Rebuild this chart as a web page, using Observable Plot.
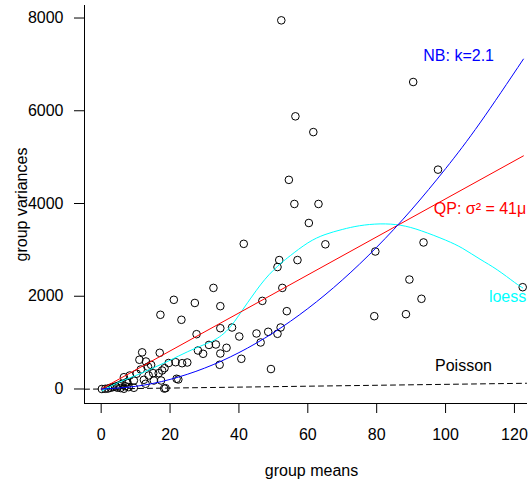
<!DOCTYPE html>
<html><head><meta charset="utf-8">
<script src="https://cdn.jsdelivr.net/npm/d3@7"></script>
<script src="https://cdn.jsdelivr.net/npm/@observablehq/plot@0.6"></script>
<style>body{margin:0;background:#fff;} svg text{font-family:'Liberation Sans',Arial,sans-serif;}</style>
</head><body><div id="chart"></div>
<script>
// group means / variances
const means = [52.3,90.6,56.4,61.6,54.5,97.8,56.1,63.1,60.3,41.4,65.1,93.6,79.6,51.7,57.0,51.2,89.5,122.4,32.6,52.6,
  93.0,21.1,27.2,46.8,34.6,53.9,88.5,79.3,17.2,23.3,34.6,38.0,52.1,27.7,40.1,45.1,48.5,51.2,46.3,31.3,
  33.3,36.4,28.1,29.6,34.6,34.4,40.7,49.3,11.9,17.0,11.1,13.0,21.6,23.5,25.0,18.4,17.7,16.7,15.1,13.8,
  12.4,15.3,12.9,17.4,21.9,22.4,18.3,18.7,6.6,8.3,9.5,7.6,8.0,9.5,6.6,0.2,1.2,2.0,2.7,3.4,4.2,5.1,6.1,7.0,
  10.3,11.5,13.6,14.5,19.6,4.6,5.6,7.3];
const variances = [7950,6620,5880,5540,4510,4730,3990,3990,3580,3130,3120,3160,2965,2780,2780,2630,2360,2195,2180,2180,
  1945,1923,1855,1900,1786,1678,1613,1570,1600,1492,1311,1326,1326,1182,1132,1197,1233,1190,1003,950,
  960,888,830,759,765,522,651,430,790,780,630,593,578,556,571,449,399,341,341,291,
  198,183,112,183,220,205,10,17,254,291,183,147,40,26,5,0,4,10,26,40,54,75,112,60,
  330,420,480,520,560,30,20,140];

// fitted curves
const nbMu  = [0,10,20,30,40,50,60,70,80,90,100,110,122.6];
const nbVar = [0,57,206,449,784,1213,1734,2349,3057,3857,4751,5738,7114];
const qpMu  = [0,122.6];
const qpVar = [0,5027];
const loMu  = [0.3,5,10,15,20,25,30,32.5,35,37.5,40,42.5,45,47.5,50,52.5,55,60,65,70,75,81,87,93,100,105,110,115,120,122.4];
const loVar = [-40,140,290,450,620,800,960,1040,1160,1340,1590,1860,2120,2360,2560,2730,2880,3150,3330,3440,3520,3560,3530,3410,3210,3030,2800,2570,2300,2180];
const xDomain = [-4.84, 123.5];
const yDomain = [-313, 8270];
const xTicks = [0,20,40,60,80,100,120];
const yTicks = [0,2000,4000,6000,8000];
const labels = [
  {x:103.8, y:7191, text:"NB: k=2.1", color:"#0000ff"},
  {x:110.0, y:3892, text:"QP: σ² = 41μ", color:"#ff0000"},
  {x:118.0, y:1979, text:"loess", color:"#00ffff"},
  {x:105.2, y:492,  text:"Poisson", color:"#000000"}
];

const pts = means.map((m,i)=>({m, v: variances[i]}));
const nb = nbMu.map((m,i)=>({m, v: nbVar[i]}));
const qp = qpMu.map((m,i)=>({m, v: qpVar[i]}));
const lo = loMu.map((m,i)=>({m, v: loVar[i]}));
const pois = xDomain.map(m=>({m, v: m}));

const chart = Plot.plot({
  width: 530, height: 481,
  marginLeft: 84, marginRight: 4, marginTop: 5, marginBottom: 78,
  style: {fontSize: "16px", fontFamily: "'Liberation Sans', Arial, sans-serif", background: "white", color: "black"},
  x: {domain: xDomain, ticks: xTicks, tickSize: 10, tickPadding: 15, line: true, label: null},
  y: {domain: yDomain, ticks: yTicks, tickSize: 10, tickPadding: 11, line: true, label: null, tickFormat: d3.format("d")},
  marks: [
    Plot.dot(pts, {x: "m", y: "v", r: 3.8, stroke: "black", strokeWidth: 1, fill: "none"}),
    Plot.line(pois, {x: "m", y: "v", stroke: "black", strokeWidth: 1, strokeDasharray: "5,4"}),
    Plot.line(lo, {x: "m", y: "v", stroke: "#00ffff", strokeWidth: 1, curve: "natural"}),
    Plot.line(qp, {x: "m", y: "v", stroke: "#ff0000", strokeWidth: 1}),
    Plot.line(nb, {x: "m", y: "v", stroke: "#0000ff", strokeWidth: 1, curve: "natural"}),
    Plot.text(labels, {x: "x", y: "y", text: "text", fill: "color", fontSize: 16}),
    Plot.text(["group means"], {frameAnchor: "bottom", textAnchor: "middle", lineAnchor: "middle", dx: 6, dy: 67, fontSize: 16, fill: "black"}),
    Plot.text(["group variances"], {frameAnchor: "left", textAnchor: "middle", lineAnchor: "middle", dx: -63, rotate: -90, fontSize: 16, fill: "black"})
  ]
});
document.getElementById("chart").appendChild(chart);
</script>
</body></html>
